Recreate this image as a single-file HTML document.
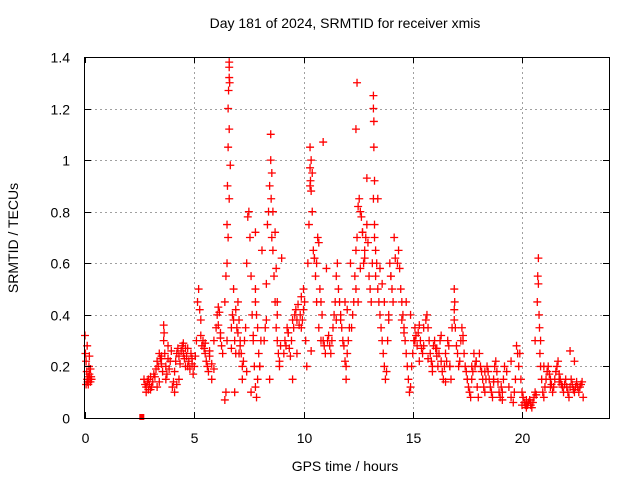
<!DOCTYPE html>
<html><head><meta charset="utf-8"><style>
body{margin:0;background:#fff}
svg{display:block;font-family:"Liberation Sans",sans-serif}
</style></head><body>
<svg id="chart" width="640" height="480">
<text x="345" y="28" font-size="14" text-anchor="middle">Day 181 of 2024, SRMTID for receiver xmis</text>
<g id="grid"></g><g id="marks"></g>
<rect x="84.5" y="57.5" width="525" height="361" fill="none" stroke="#000"/>
<g id="ticks"></g>
<text x="345" y="471" font-size="14" text-anchor="middle">GPS time / hours</text>
<text x="18" y="238" font-size="14" text-anchor="middle" transform="rotate(-90 18 238)">SRMTID / TECUs</text>
</svg>
<script>
const xTicks=[0,5,10,15,20];
const yTicks=[0,0.2,0.4,0.6,0.8,1,1.2,1.4];
const yTickLabels=["0","0.2","0.4","0.6","0.8","1","1.2","1.4"];
const hours=[0,0.02,0.05,0.08,0.1,0.12,0.15,0.18,0.2,0.22,0.25,0.28,0.3,0.05,0.15,0.2,0.1,0.25,
2.7,2.75,2.8,2.85,2.9,2.95,3.0,3.05,3.1,3.15,2.8,2.9,3.0,
3.2,3.25,3.3,3.35,3.4,3.45,3.5,3.55,3.6,3.6,3.62,3.65,3.7,3.75,3.8,3.85,3.9,3.95,3.3,3.4,3.5,3.7,3.8,
4.0,4.05,4.1,4.15,4.2,4.25,4.3,4.35,4.4,4.45,4.5,4.55,4.6,4.65,4.7,4.75,4.8,4.85,4.9,4.95,4.1,4.3,4.5,4.7,4.9,4.2,4.6,
5.0,5.05,5.1,5.15,5.2,5.25,5.3,5.35,5.4,5.45,5.5,5.55,5.6,5.65,5.7,5.8,5.9,6.0,6.05,6.1,6.15,6.2,6.25,6.3,5.3,5.5,5.7,5.9,6.1,6.2,5.8,
6.4,6.45,6.5,6.5,6.5,6.52,6.55,6.55,6.57,6.6,6.6,6.6,6.62,6.6,6.65,6.6,6.55,6.45,6.4,6.7,6.75,6.8,6.85,6.9,6.95,7.0,7.05,7.1,7.15,7.2,7.25,6.7,6.8,6.9,7.0,7.1,7.2,6.85,7.05,
7.3,7.35,7.4,7.45,7.5,7.55,7.6,7.65,7.7,7.75,7.8,7.85,7.9,7.95,8.0,8.05,8.1,7.8,7.8,7.8,7.85,7.9,7.4,7.6,7.7,8.0,
8.2,8.25,8.3,8.35,8.4,8.45,8.5,8.5,8.52,8.55,8.55,8.6,8.6,8.65,8.7,8.75,8.8,8.8,8.85,8.9,8.95,9.0,8.7,8.75,8.8,8.3,8.45,8.9,
9.1,9.15,9.2,9.25,9.3,9.35,9.4,9.45,9.5,9.55,9.6,9.65,9.7,9.75,9.8,9.85,9.9,9.95,10.0,10.05,10.1,10.15,9.3,9.5,9.7,9.9,10.0,
10.2,10.25,10.3,10.3,10.32,10.35,10.35,10.4,10.4,10.45,10.5,10.55,10.6,10.65,10.7,10.75,10.8,10.85,10.9,10.95,11.0,11.05,10.5,10.6,10.7,10.8,10.9,10.3,10.35,
11.1,11.15,11.2,11.25,11.3,11.35,11.4,11.45,11.5,11.55,11.6,11.65,11.7,11.75,11.8,11.85,11.9,11.95,12.0,12.05,12.1,12.15,11.9,11.95,12.0,11.7,11.5,
12.2,12.25,12.3,12.35,12.4,12.45,12.5,12.55,12.6,12.65,12.7,12.75,12.8,12.85,12.9,12.95,13.0,13.05,13.1,13.15,12.4,12.5,12.6,12.7,12.8,12.9,12.4,12.45,
13.2,13.2,13.22,13.22,13.25,13.25,13.2,13.25,13.3,13.35,13.4,13.45,13.5,13.55,13.6,13.65,13.7,13.75,13.8,13.85,13.9,13.95,14.0,14.05,14.1,14.15,14.2,13.5,13.6,13.7,13.9,14.0,13.4,13.3,
14.3,14.35,14.4,14.45,14.5,14.55,14.6,14.65,14.7,14.75,14.8,14.85,14.9,14.95,15.0,15.05,15.1,15.15,15.2,15.25,15.3,15.35,15.4,15.45,15.5,14.5,14.7,14.9,15.1,15.3,15.5,14.6,
15.6,15.65,15.7,15.75,15.8,15.85,15.9,15.95,16.0,16.05,16.1,16.15,16.2,16.25,16.3,16.35,16.4,16.45,16.5,16.55,16.6,16.65,16.7,16.75,16.8,15.7,15.9,16.1,16.3,16.5,16.7,
16.9,16.9,16.9,16.92,16.95,17.0,17.05,17.1,17.15,17.2,17.25,17.3,17.35,17.4,17.45,17.5,17.55,17.6,17.65,17.7,17.75,17.8,17.85,17.9,17.95,18.0,17.3,17.5,17.7,17.9,
18.05,18.1,18.15,18.2,18.25,18.3,18.35,18.4,18.45,18.5,18.55,18.6,18.65,18.7,18.75,18.8,18.85,18.9,18.95,19.0,19.05,19.1,19.15,19.2,19.3,19.4,19.5,19.6,19.65,19.7,19.75,19.8,19.85,19.9,18.3,18.7,19.1,19.5,
19.95,20.0,20.05,20.1,20.15,20.2,20.25,20.3,20.35,20.4,20.45,20.5,20.55,20.6,20.65,20.0,20.2,20.4,20.6,
20.7,20.72,20.75,20.75,20.78,20.8,20.82,20.85,20.85,20.9,20.95,21.0,21.05,21.1,21.15,21.2,21.25,21.3,21.35,21.4,21.45,21.5,21.55,21.6,21.65,21.7,21.75,21.8,21.85,21.9,21.95,22.0,22.05,22.1,22.15,22.2,22.25,22.3,22.35,22.4,22.45,22.5,22.55,22.6,22.65,22.7,22.75,22.8,21.0,21.3,21.7,22.2,22.4,22.45];
const tec=[0.32,0.25,0.22,0.18,0.15,0.14,0.16,0.2,0.17,0.15,0.14,0.16,0.15,0.13,0.13,0.24,0.28,0.19,
0.15,0.13,0.12,0.14,0.11,0.13,0.16,0.12,0.14,0.17,0.1,0.15,0.11,
0.16,0.19,0.22,0.2,0.25,0.23,0.21,0.18,0.3,0.36,0.33,0.25,0.2,0.17,0.23,0.19,0.22,0.26,0.12,0.14,0.24,0.15,0.28,
0.12,0.14,0.18,0.22,0.25,0.27,0.24,0.21,0.26,0.28,0.25,0.23,0.2,0.24,0.27,0.22,0.19,0.25,0.21,0.17,0.1,0.15,0.29,0.2,0.23,0.13,0.27,
0.2,0.24,0.3,0.45,0.5,0.42,0.32,0.28,0.3,0.27,0.25,0.22,0.2,0.18,0.26,0.21,0.3,0.35,0.4,0.43,0.41,0.33,0.28,0.25,0.38,0.29,0.24,0.19,0.36,0.31,0.15,
0.07,0.1,0.3,0.6,0.75,0.9,1.05,1.2,1.27,1.32,1.38,1.36,1.3,1.12,0.98,0.85,0.7,0.55,0.45,0.35,0.4,0.5,0.3,0.25,0.35,0.45,0.38,0.3,0.25,0.2,0.22,0.27,0.38,0.42,0.33,0.28,0.15,0.1,
0.25,0.3,0.35,0.6,0.78,0.8,0.7,0.55,0.4,0.3,0.2,0.12,0.08,0.15,0.25,0.2,0.3,0.65,0.72,0.5,0.45,0.4,0.35,0.18,0.1,0.32,
0.2,0.3,0.35,0.52,0.75,0.8,0.9,1.0,1.1,0.85,0.95,0.7,0.8,0.65,0.55,0.45,0.35,0.4,0.3,0.25,0.2,0.28,0.62,0.72,0.58,0.45,0.38,0.15,
0.22,0.25,0.3,0.28,0.35,0.33,0.27,0.24,0.3,0.38,0.35,0.4,0.42,0.38,0.44,0.36,0.4,0.47,0.38,0.42,0.45,0.3,0.2,0.33,0.15,0.25,0.35,
0.5,0.6,0.75,0.9,1.05,0.92,1.0,0.88,0.95,0.8,0.65,0.62,0.55,0.6,0.7,0.68,0.5,0.45,0.4,0.3,0.28,0.25,0.58,0.62,0.45,0.35,0.3,1.07,0.97,
0.26,0.3,0.32,0.28,0.25,0.3,0.35,0.4,0.45,0.55,0.6,0.5,0.45,0.4,0.35,0.3,0.28,0.22,0.2,0.25,0.3,0.35,0.6,0.45,0.15,0.42,0.38,
0.38,0.35,0.4,0.45,0.55,0.65,0.7,0.82,0.85,0.8,0.78,0.72,0.6,0.65,0.7,0.75,0.68,0.55,0.5,0.45,0.6,0.5,0.45,0.58,0.72,0.62,0.93,1.12,
1.3,1.25,1.2,1.15,1.05,0.92,0.75,0.85,0.7,0.65,0.6,0.5,0.45,0.4,0.35,0.3,0.25,0.2,0.15,0.18,0.3,0.4,0.6,0.55,0.5,0.45,0.7,0.62,0.58,0.52,0.45,0.38,0.55,0.85,
0.55,0.6,0.65,0.58,0.5,0.45,0.4,0.35,0.3,0.25,0.2,0.15,0.1,0.12,0.2,0.25,0.3,0.35,0.32,0.28,0.33,0.36,0.3,0.27,0.25,0.35,0.38,0.45,0.4,0.3,0.22,0.28,
0.33,0.38,0.4,0.35,0.3,0.25,0.22,0.2,0.28,0.3,0.27,0.24,0.2,0.25,0.3,0.22,0.18,0.15,0.2,0.25,0.22,0.3,0.28,0.2,0.15,0.35,0.23,0.18,0.27,0.32,0.14,
0.2,0.42,0.38,0.5,0.45,0.35,0.28,0.25,0.2,0.22,0.3,0.35,0.32,0.25,0.2,0.18,0.15,0.12,0.1,0.08,0.15,0.18,0.25,0.2,0.22,0.12,0.08,0.3,0.15,0.2,
0.22,0.25,0.2,0.18,0.15,0.12,0.1,0.15,0.2,0.18,0.15,0.12,0.1,0.08,0.15,0.2,0.22,0.18,0.14,0.1,0.08,0.12,0.1,0.15,0.2,0.18,0.12,0.08,0.06,0.1,0.15,0.28,0.25,0.2,0.25,0.18,0.14,0.07,
0.22,0.15,0.1,0.08,0.06,0.05,0.04,0.05,0.06,0.07,0.05,0.04,0.06,0.08,0.1,0.09,0.05,0.07,0.06,
0.3,0.45,0.55,0.62,0.52,0.4,0.35,0.25,0.3,0.2,0.15,0.1,0.08,0.12,0.15,0.18,0.2,0.17,0.15,0.13,0.1,0.12,0.15,0.18,0.2,0.22,0.17,0.15,0.13,0.12,0.1,0.13,0.15,0.12,0.1,0.08,0.12,0.15,0.13,0.11,0.1,0.12,0.14,0.12,0.1,0.12,0.13,0.14,0.08,0.2,0.12,0.14,0.26,0.22];
const xs=h=>85+h*21.85, ys=v=>418-v*257.9;
const svg=document.getElementById('chart'),NS='http://www.w3.org/2000/svg';
const grid=document.getElementById('grid'),marks=document.getElementById('marks'),ticks=document.getElementById('ticks');
function mk(tag,attrs,parent){const e=document.createElementNS(NS,tag);for(const k in attrs)e.setAttribute(k,attrs[k]);parent.appendChild(e);return e;}
xTicks.forEach(t=>{const x=Math.round(xs(t))+0.5;
 if(t>0){const g=mk('line',{x1:x,x2:x,y1:57,y2:418,stroke:'#a0a0a0','stroke-dasharray':'2,3'},grid);
 
 }
 mk('line',{x1:x,x2:x,y1:418,y2:412,stroke:'#000'},ticks);mk('line',{x1:x,x2:x,y1:57,y2:63,stroke:'#000'},ticks);
 const l=mk('text',{x:x,y:443,'font-size':14,'text-anchor':'middle'},ticks);l.textContent=t;
 
 });
yTicks.forEach((t,i)=>{const y=Math.round(ys(t))+0.5;
 if(t>0&&t<1.4){const g=mk('line',{x1:85,x2:609,y1:y,y2:y,stroke:'#a0a0a0','stroke-dasharray':'2,3'},grid);
 
 }
 mk('line',{x1:85,x2:91,y1:y,y2:y,stroke:'#000'},ticks);mk('line',{x1:603,x2:609,y1:y,y2:y,stroke:'#000'},ticks);
 const l=mk('text',{x:70,y:y+5,'font-size':14,'text-anchor':'end'},ticks);l.textContent=yTickLabels[i];
 
 });
const sq=mk('rect',{x:xs(2.6)-2.5,y:ys(0)-4,width:5,height:6,fill:'#f00'},marks);


hours.forEach((h,i)=>{const x=xs(h),y=ys(tec[i]);
 const p=mk('path',{d:`M${x-4} ${y}h8M${x} ${y-4}v8`,stroke:'#f00','stroke-width':1.3,fill:'none'},marks);
 
 });
</script>
</body></html>
